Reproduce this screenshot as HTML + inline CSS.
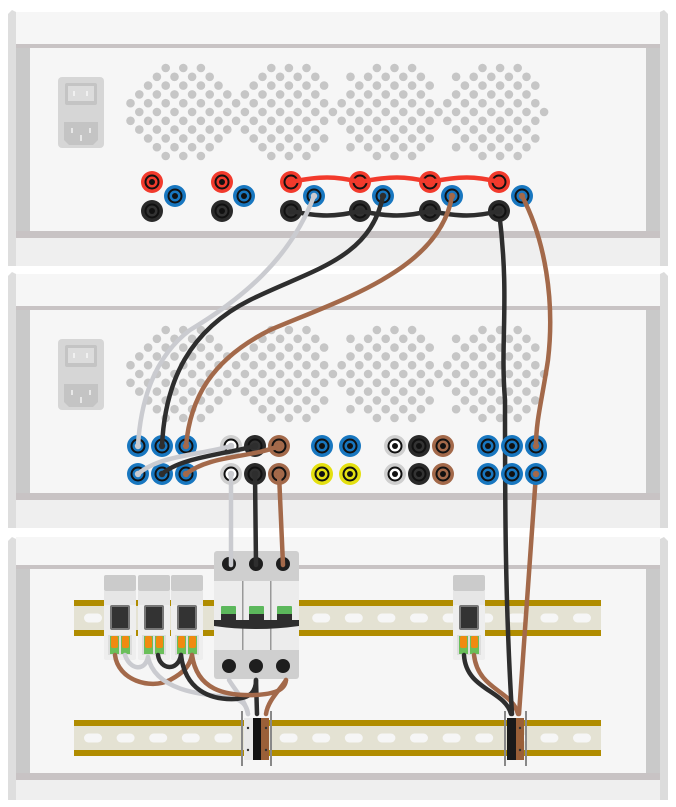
<!DOCTYPE html>
<html><head><meta charset="utf-8"><style>html,body{margin:0;padding:0;background:#fff}svg{display:block}</style></head>
<body>
<svg id="s" width="676" height="807" viewBox="0 0 676 807" xmlns="http://www.w3.org/2000/svg">
<defs>
<g id="frame">
  <polygon points="8,14 12,10 16,12 16,266 8,266" fill="#dedede"/>
  <polygon points="660,12 664,10 668,14 668,266 660,266" fill="#dcdcdc"/>
  <rect x="16" y="12" width="644" height="32" fill="#f6f6f6"/>
  <rect x="16" y="44" width="644" height="4" fill="#c8c3c4"/>
  <rect x="16" y="48" width="644" height="183" fill="#f6f6f6"/>
  <rect x="16" y="48" width="14" height="183" fill="#c9c9c9"/>
  <rect x="646" y="48" width="14" height="183" fill="#c9c9c9"/>
  <rect x="16" y="231" width="644" height="7" fill="#c8c3c4"/>
  <rect x="16" y="238" width="644" height="28" fill="#efefef"/>
</g>
<g id="power">
  <rect x="58" y="77" width="46" height="71" rx="4" fill="#d6d6d6"/>
  <rect x="65" y="83" width="32" height="22" rx="2" fill="#c4c4c4"/>
  <rect x="68" y="86" width="26" height="15" fill="#dcdcdc"/>
  <rect x="73" y="91" width="2" height="5" fill="#f0f0f0"/><rect x="86" y="91" width="2" height="5" fill="#f0f0f0"/>
  <polygon points="64,122 98,122 98,140 93,145 69,145 64,140" fill="#c4c4c4"/>
  <rect x="71" y="128" width="2" height="5" fill="#e8e8e8"/><rect x="89" y="128" width="2" height="5" fill="#e8e8e8"/><rect x="80" y="135" width="2" height="6" fill="#e8e8e8"/>
</g>
<g id="mod">
  <rect x="0" y="0" width="32" height="85" rx="2" fill="#eeeeee"/>
  <rect x="0" y="0" width="32" height="16" rx="2" fill="#cbcbcb"/>
  <rect x="0" y="16" width="32" height="14" fill="#e6e6e6"/>
  <rect x="6" y="30" width="20" height="25" rx="2" fill="#777"/>
  <rect x="8" y="32" width="16" height="21" fill="#333"/>
  <rect x="4" y="60" width="24" height="20" fill="#dddddd"/>
  <rect x="6" y="61" width="9" height="18" fill="#6abf5a"/><rect x="17" y="61" width="9" height="18" fill="#6abf5a"/>
  <rect x="7" y="61" width="7" height="12" rx="2" fill="#f08a10"/><rect x="18" y="61" width="7" height="12" rx="2" fill="#f08a10"/>
</g>
<g id="rail">
  <rect x="74" y="0" width="527" height="36" fill="#e4e2d3"/>
  <rect x="74" y="0" width="527" height="6" fill="#b08c00"/>
  <rect x="74" y="30" width="527" height="6" fill="#b08c00"/>
</g>
</defs>
<use href="#frame"/>
<use href="#frame" y="262"/>
<!-- unit 3 frame -->
<polygon points="8,541 12,537 16,539 16,800 8,800" fill="#dedede"/>
<polygon points="660,539 664,537 668,541 668,800 660,800" fill="#dcdcdc"/>
<rect x="16" y="537" width="644" height="28" fill="#f6f6f6"/>
<rect x="16" y="565" width="644" height="4" fill="#c8c3c4"/>
<rect x="16" y="569" width="644" height="204" fill="#f6f6f6"/>
<rect x="16" y="569" width="14" height="204" fill="#c9c9c9"/>
<rect x="646" y="569" width="14" height="204" fill="#c9c9c9"/>
<rect x="16" y="773" width="644" height="7" fill="#c8c3c4"/>
<rect x="16" y="780" width="644" height="20" fill="#efefef"/>
<use href="#power"/>
<use href="#power" y="262"/>
<g id="dots" fill="#c6c6c6"></g>

<use href="#rail" y="600"/>
<use href="#rail" y="720"/>
<g id="slots" fill="#f6f6f6"></g>
<use href="#mod" x="104" y="575"/>
<use href="#mod" x="138" y="575"/>
<use href="#mod" x="171" y="575"/>
<use href="#mod" x="453" y="575"/>
<rect x="214" y="551" width="85" height="128" rx="3" fill="#cfcfcf"/>
<rect x="214" y="581" width="85" height="69" fill="#ececec"/>
<rect x="242" y="581" width="1.5" height="69" fill="#999"/><rect x="270" y="581" width="1.5" height="69" fill="#999"/>
<rect x="221" y="606" width="15" height="9" rx="1" fill="#5cb85c"/><rect x="249" y="606" width="15" height="9" rx="1" fill="#5cb85c"/><rect x="277" y="606" width="15" height="9" rx="1" fill="#5cb85c"/>
<rect x="221" y="614" width="15" height="8" fill="#2e2e2e"/><rect x="249" y="614" width="15" height="8" fill="#2e2e2e"/><rect x="277" y="614" width="15" height="8" fill="#2e2e2e"/>
<path d="M214,620 L299,620 L299,626 Q256,632 214,626 Z" fill="#2e2e2e"/>
<g fill="#1e1e1e"><circle cx="229" cy="564" r="7"/><circle cx="256" cy="564" r="7"/><circle cx="283" cy="564" r="7"/><circle cx="229" cy="666" r="7"/><circle cx="256" cy="666" r="7"/><circle cx="283" cy="666" r="7"/></g>

<g fill="none" stroke-width="4.5" stroke-linecap="round">
  <path d="M115,655 C118,680 150,690 170,680 C185,672 190,665 192,655" stroke="#a3694a"/>
  <path d="M125,655 C130,670 145,672 148,657" stroke="#cacbd0"/>
  <path d="M148,657 C155,690 200,695 230,697 C242,700 247,705 248,714" stroke="#cacbd0"/>
  <path d="M229,680 C235,690 245,700 248,714" stroke="#cacbd0"/>
  <path d="M158,655 C160,670 178,672 181,655" stroke="#2e2e2e"/>
  <path d="M181,655 C185,690 210,700 235,699 C250,698 256,692 256,680" stroke="#2e2e2e"/>
  <path d="M256,680 L257,714" stroke="#2e2e2e"/>
  <path d="M192,655 C197,690 225,696 255,695 C275,694 285,690 286,680" stroke="#a3694a"/>
  <path d="M286,680 C280,690 268,700 266,714" stroke="#a3694a"/>
  <path d="M464,655 C466,690 505,690 511,714" stroke="#2e2e2e"/>
  <path d="M474,655 C478,690 512,690 518,714" stroke="#a3694a"/>
  <path d="M499,211 C510,300 500,340 505,400 C505,500 505,600 512,714" stroke="#2e2e2e"/>
  <path d="M536,474 L519,714" stroke="#a3694a"/>
</g>
<rect x="241" y="711" width="2" height="55" fill="#888"/><rect x="270" y="711" width="2" height="55" fill="#888"/>
<rect x="244" y="718" width="9" height="42" fill="#e8e8e8"/><rect x="253" y="718" width="8" height="42" fill="#111"/><rect x="261" y="718" width="8" height="42" fill="#9a6038"/>
<rect x="504" y="711" width="2" height="55" fill="#888"/><rect x="525" y="711" width="2" height="55" fill="#888"/>
<rect x="507" y="718" width="9" height="42" fill="#1a1a1a"/><rect x="516" y="718" width="8" height="42" fill="#9a6038"/>
<g fill="#333"><circle cx="248" cy="728" r="1.2"/><circle cx="248" cy="750" r="1.2"/><circle cx="266" cy="728" r="1.2"/><circle cx="266" cy="750" r="1.2"/><circle cx="520" cy="728" r="1.2"/><circle cx="520" cy="750" r="1.2"/></g>

<g id="jacks"></g>

<g fill="none" stroke-width="4.5" stroke-linecap="round">
  <path d="M291,182 C320,176 335,176 360,182 C390,176 405,176 430,182 C460,176 475,176 499,182" stroke="#f23a2c"/>
  <path d="M291,211 C320,217 335,217 360,211 C390,217 405,217 430,211 C460,217 475,217 499,211" stroke="#2e2e2e"/>
  <path d="M314,196 C290,260 240,300 190,330 C150,360 140,410 138,446" stroke="#cacbd0"/>
  <path d="M383,196 C370,260 310,270 250,300 C190,330 165,380 162,446" stroke="#2e2e2e"/>
  <path d="M452,196 C440,270 340,300 270,330 C210,360 190,400 186,446" stroke="#a3694a"/>
  <path d="M522,196 C545,240 555,300 548,360 C542,400 536,420 536,446" stroke="#a3694a"/>
  <path d="M138,474 C160,455 200,455 231,446" stroke="#cacbd0"/>
  <path d="M162,474 C180,458 220,455 255,446" stroke="#2e2e2e"/>
  <path d="M186,474 C210,455 250,458 279,446" stroke="#a3694a"/>
  <path d="M231,474 L231,565" stroke="#cacbd0"/>
  <path d="M255,474 L256,565" stroke="#2e2e2e"/>
  <path d="M279,474 L283,565" stroke="#a3694a"/>
</g>
<g id="plugs"></g>
<script>
(function(){
var NS="http://www.w3.org/2000/svg";
function el(p,t,a){var e=document.createElementNS(NS,t);for(var k in a)e.setAttribute(k,a[k]);p.appendChild(e);return e;}
var d=document.getElementById('dots');
var cs=[178,283,388,493];
[0,262].forEach(function(oy){
 for(var i=0;i<11;i++){var y=68+i*8.8;
  for(var k=0;k<50;k++){if((k+i)%2)continue;var x=130.5+k*8.8;
   var ok=false;cs.forEach(function(c){var dx=(x-c)/53,dy=(y-112)/50;if(dx*dx+dy*dy<=1)ok=true;});
   if(ok&&x<548)el(d,'circle',{cx:x,cy:y+oy,r:4.3});}}
});
var s=document.getElementById('slots');
[618,738].forEach(function(y){for(var x=93;x<590;x+=32.6)el(s,'rect',{x:x-9,y:y-4.5,width:18,height:9,rx:4.5});});
var j=document.getElementById('jacks');
var C={r:'#f23a2c',b:'#1877c0',k:'#2a2a2a',g:'#cfcfcf',n:'#a3694a',y:'#e4e010'};
function jack(x,y,c){el(j,'circle',{cx:x,cy:y,r:11,fill:C[c]});el(j,'circle',{cx:x,cy:y,r:7.5,fill:'#111'});
 el(j,'circle',{cx:x,cy:y,r:5.5,fill:c=='k'?'#333':(c=='g'?'#fff':C[c])});el(j,'circle',{cx:x,cy:y,r:3,fill:'#111'});}
[152,222,291,360,430,499].forEach(function(x){jack(x,182,'r');jack(x,211,'k');});
[175,244,314,383,452,522].forEach(function(x){jack(x,196,'b');});
[138,162,186,488,512,536].forEach(function(x){jack(x,446,'b');jack(x,474,'b');});
[[231,'g'],[255,'k'],[279,'n'],[395,'g'],[419,'k'],[443,'n']].forEach(function(a){jack(a[0],446,a[1]);jack(a[0],474,a[1]);});
[322,350].forEach(function(x){jack(x,446,'b');jack(x,474,'y');});
var P=document.getElementById('plugs');
[[291,182,'#f23a2c'],[360,182,'#f23a2c'],[430,182,'#f23a2c'],[499,182,'#f23a2c'],[291,211,'#2e2e2e'],[360,211,'#2e2e2e'],[430,211,'#2e2e2e'],[499,211,'#2e2e2e'],
 [314,196,'#cacbd0'],[383,196,'#2e2e2e'],[452,196,'#a3694a'],[522,196,'#a3694a'],[138,446,'#cacbd0'],[162,446,'#2e2e2e'],[186,446,'#a3694a'],
 [138,474,'#cacbd0'],[162,474,'#2e2e2e'],[186,474,'#a3694a'],[231,446,'#cacbd0'],[255,446,'#2e2e2e'],[279,446,'#a3694a'],[231,474,'#cacbd0'],[255,474,'#2e2e2e'],[279,474,'#a3694a'],[536,446,'#a3694a'],[536,474,'#a3694a']
].forEach(function(a){el(P,'circle',{cx:a[0],cy:a[1],r:3.2,fill:a[2]});});
})();
</script>
</svg>
</body></html>
